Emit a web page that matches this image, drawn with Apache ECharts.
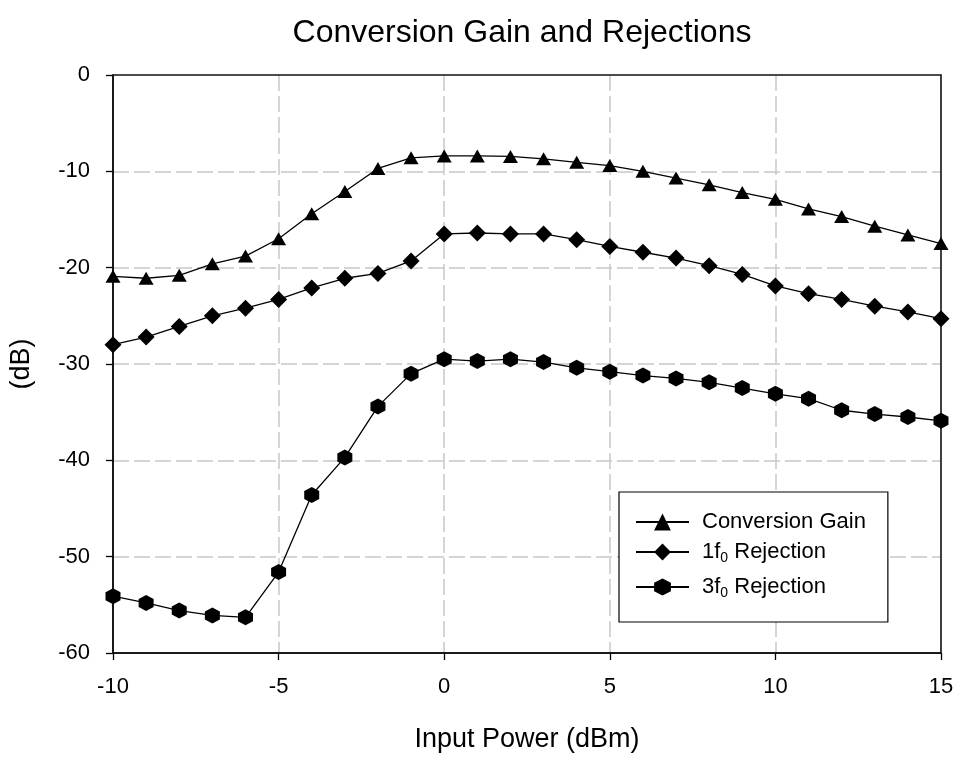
<!DOCTYPE html>
<html>
<head>
<meta charset="utf-8">
<script src="https://cdn.jsdelivr.net/npm/echarts@6/dist/echarts.min.js"></script>
<style>
  html, body { margin: 0; padding: 0; background: #fff; }
  #chart { width: 959px; height: 758px; }
</style>
</head>
<body>
<div id="chart"></div>
<script>
// Input power sweep (dBm)
const inputPower = [-10, -9, -8, -7, -6, -5, -4, -3, -2, -1, 0, 1, 2, 3, 4, 5, 6, 7, 8, 9, 10, 11, 12, 13, 14, 15];

// Conversion gain (dB)
const conversionGain = [-20.9, -21.1, -20.8, -19.6, -18.8, -17.0, -14.4, -12.1, -9.7, -8.6, -8.4, -8.4, -8.45, -8.7, -9.06, -9.4, -10.0, -10.7, -11.4, -12.2, -12.9, -13.9, -14.7, -15.7, -16.6, -17.5];

// Fundamental (1f0) rejection (dB)
const rejection1f0 = [-28.0, -27.2, -26.1, -25.0, -24.2, -23.3, -22.1, -21.1, -20.6, -19.3, -16.5, -16.4, -16.5, -16.5, -17.1, -17.8, -18.4, -19.0, -19.8, -20.7, -21.9, -22.7, -23.3, -24.0, -24.6, -25.3];

// Third harmonic (3f0) rejection (dB)
const rejection3f0 = [-54.1, -54.8, -55.6, -56.1, -56.3, -51.6, -43.6, -39.7, -34.4, -31.0, -29.5, -29.7, -29.5, -29.8, -30.4, -30.8, -31.2, -31.5, -31.9, -32.5, -33.1, -33.6, -34.8, -35.2, -35.5, -35.9];

// Axis ranges and tick spacing
const xRange = { min: -10, max: 15, interval: 5 };
const yRange = { min: -60, max: 0, interval: 10 };

const FONT = '"Liberation Sans", Arial, sans-serif';
const HEXAGON = 'path://M0,-1 L0.866,-0.5 L0.866,0.5 L0,1 L-0.866,0.5 L-0.866,-0.5 Z';

function pairs(ys) {
  return inputPower.map((x, i) => [x, ys[i]]);
}

function lineSeries(name, values, symbol, size) {
  return {
    name: name,
    type: 'line',
    data: pairs(values),
    symbol: symbol,
    symbolSize: size,
    showAllSymbol: true,
    lineStyle: { color: '#000', width: 1.3 },
    itemStyle: { color: '#000' },
    emphasis: { disabled: true },
    animation: false
  };
}

const gridDash = { color: '#c8c8c8', width: 1.5, type: [16, 5] };

const chart = echarts.init(document.getElementById('chart'), null, { renderer: 'canvas' });

chart.setOption({
  backgroundColor: '#fff',
  animation: false,
  title: {
    text: 'Conversion Gain and Rejections',
    left: 517,
    textAlign: 'center',
    top: 12,
    textStyle: { fontFamily: FONT, fontSize: 32, fontWeight: 'normal', color: '#000' }
  },
  grid: {
    left: 110.7,
    right: 18,
    top: 75,
    bottom: 101.5,
    show: true,
    borderColor: '#111',
    borderWidth: 1.6,
    backgroundColor: 'transparent',
    z: 3
  },
  legend: {
    orient: 'vertical',
    left: 619,
    top: 492,
    padding: [19, 22, 19, 16],
    itemWidth: 53,
    itemHeight: 21,
    itemGap: 3,
    backgroundColor: '#fff',
    borderColor: '#000',
    borderWidth: 1.2,
    borderRadius: 0,
    selectedMode: false,
    data: ['Conversion Gain', '1f0 Rejection', '3f0 Rejection'],
    formatter: function (name) {
      const m = name.match(/^(\d)f0 (.*)$/);
      if (m) return m[1] + 'f{sub|0} ' + m[2];
      return name;
    },
    textStyle: {
      fontFamily: FONT,
      fontSize: 22,
      color: '#000',
      padding: [0, 0, 0, 8],
      rich: {
        sub: { fontFamily: FONT, fontSize: 14, color: '#000', lineHeight: 30, padding: [15, 0, 3, 0] }
      }
    }
  },
  xAxis: {
    type: 'value',
    min: xRange.min,
    max: xRange.max,
    interval: xRange.interval,
    name: 'Input Power (dBm)',
    nameLocation: 'middle',
    nameGap: 73,
    nameTextStyle: { fontFamily: FONT, fontSize: 27, color: '#000' },
    axisLine: { show: true, onZero: false, lineStyle: { color: '#000', width: 1.5 } },
    axisTick: { show: true, inside: false, length: 7, lineStyle: { color: '#000', width: 1.3 } },
    axisLabel: { fontFamily: FONT, fontSize: 22, color: '#000', margin: 23 },
    splitLine: { show: true, showMinLine: false, showMaxLine: false, lineStyle: gridDash }
  },
  yAxis: {
    type: 'value',
    min: yRange.min,
    max: yRange.max,
    interval: yRange.interval,
    name: '(dB)',
    nameLocation: 'middle',
    nameGap: 78,
    nameRotate: 90,
    nameTextStyle: { fontFamily: FONT, fontSize: 27, color: '#000' },
    axisLine: { show: true, onZero: false, lineStyle: { color: '#000', width: 1.5 } },
    axisTick: { show: true, inside: false, length: 7, lineStyle: { color: '#000', width: 1.3 } },
    axisLabel: { fontFamily: FONT, fontSize: 22, color: '#000', margin: 23 },
    splitLine: { show: true, showMinLine: false, showMaxLine: false, lineStyle: gridDash }
  },
  series: [
    lineSeries('Conversion Gain', conversionGain, 'triangle', [15, 13]),
    lineSeries('1f0 Rejection', rejection1f0, 'diamond', [17, 17]),
    lineSeries('3f0 Rejection', rejection3f0, HEXAGON, [15, 16])
  ]
});
</script>
</body>
</html>
